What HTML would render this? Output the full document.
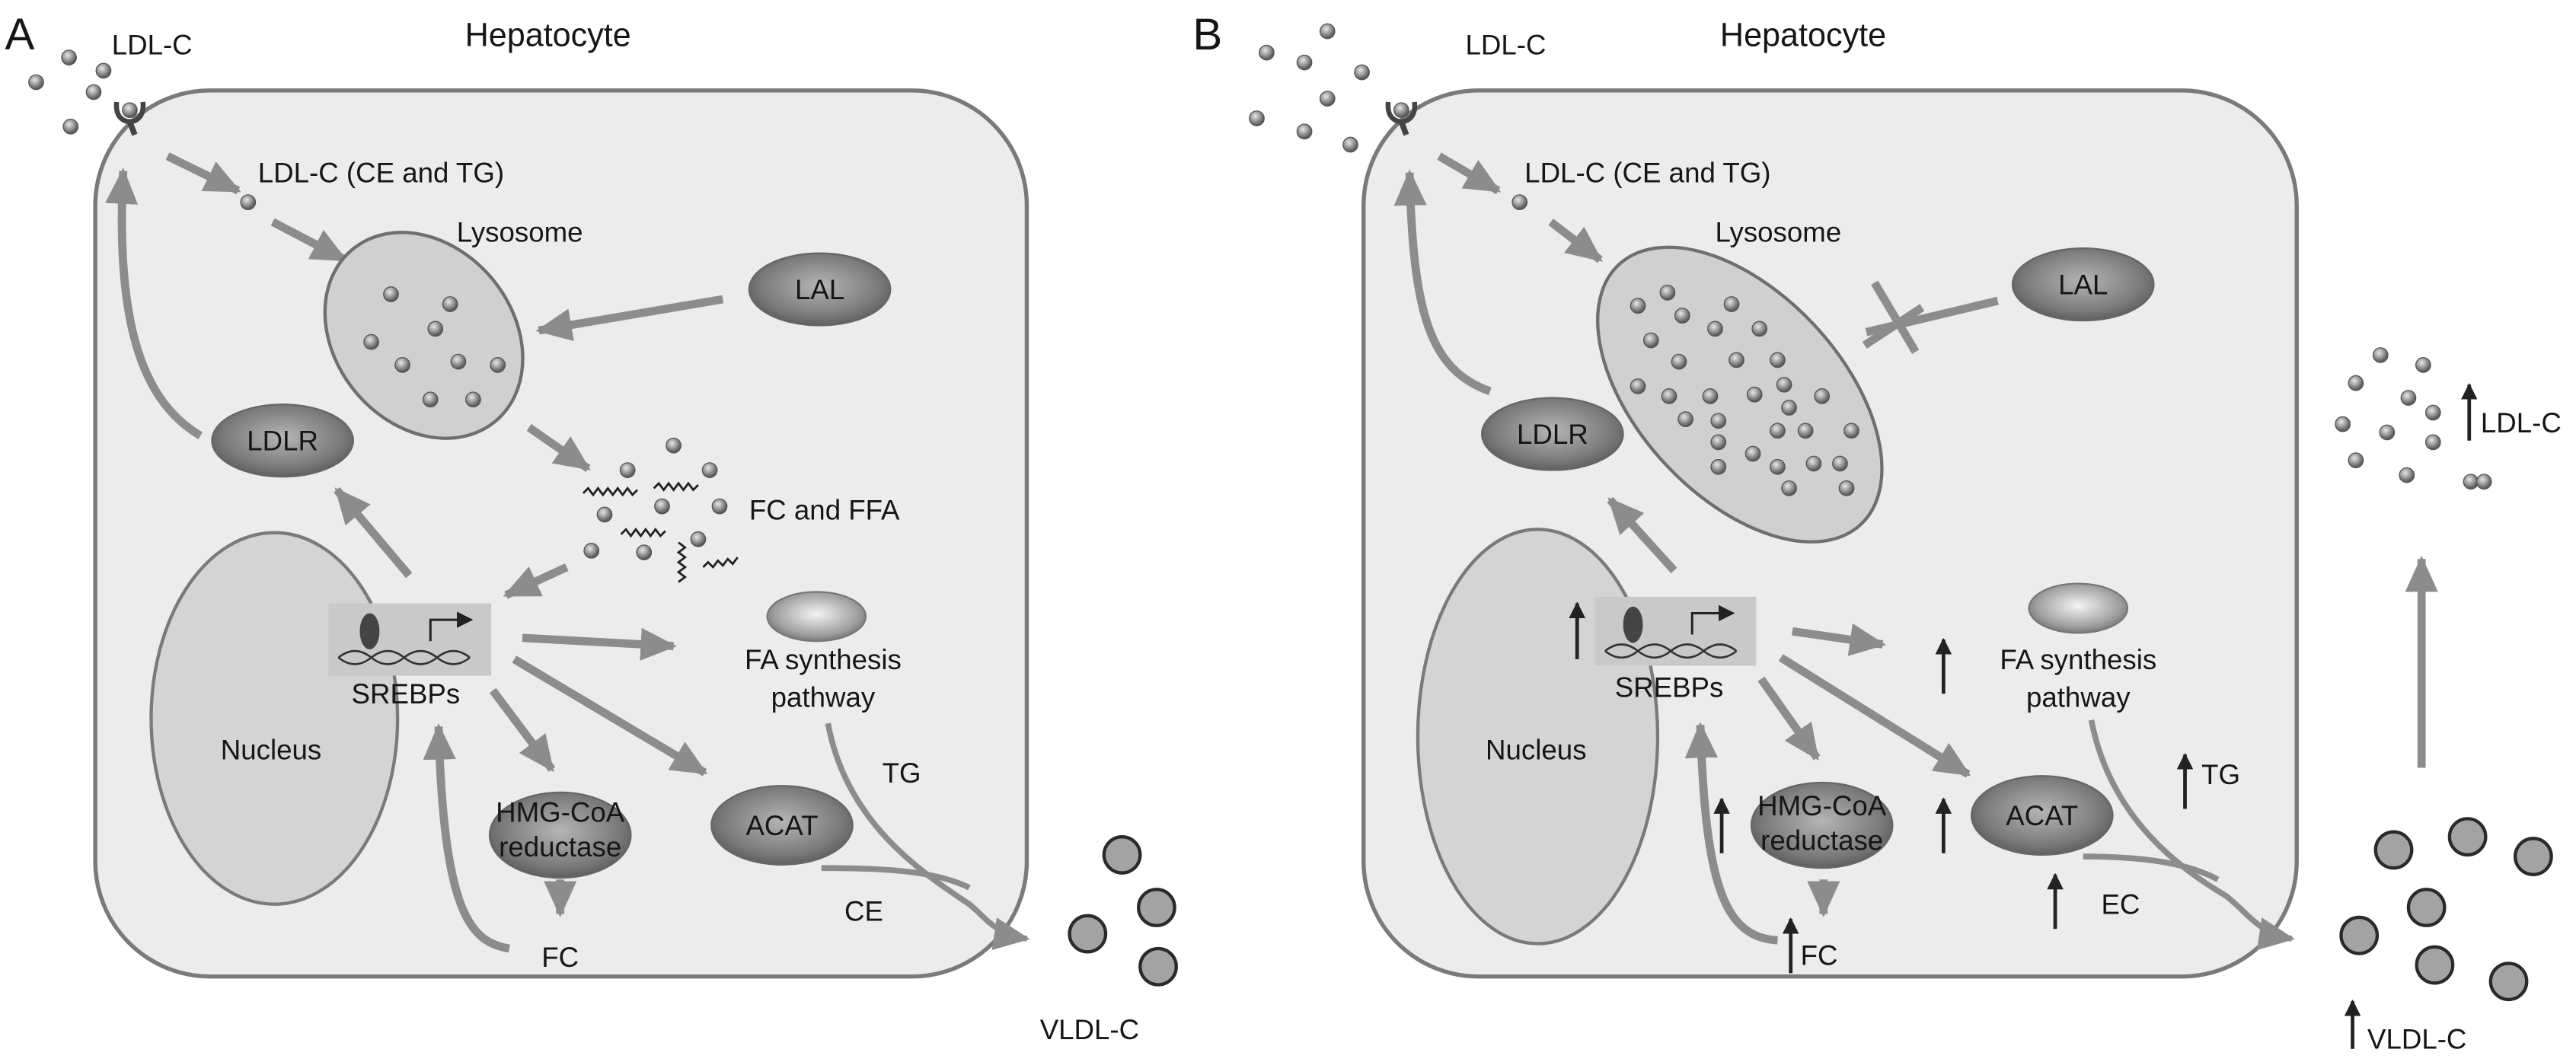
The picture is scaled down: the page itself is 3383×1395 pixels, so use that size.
<!DOCTYPE html>
<html><head><meta charset="utf-8"><style>
html,body{margin:0;padding:0;background:#fff}
svg{display:block}
text{font-family:"Liberation Sans",Arial,sans-serif;fill:#161616}
</style></head><body>
<svg width="3383" height="1395" viewBox="0 0 1568 646" preserveAspectRatio="none" xmlns="http://www.w3.org/2000/svg">
<defs>
<marker id="ah" markerUnits="userSpaceOnUse" markerWidth="22" markerHeight="20" viewBox="0 0 22 20" refX="20" refY="10" orient="auto"><path d="M0,0 L22,10 L0,20 z" fill="#8c8c8c"/></marker>
<marker id="bh" markerUnits="userSpaceOnUse" markerWidth="10" markerHeight="10" viewBox="0 0 10 10" refX="9" refY="5" orient="auto"><path d="M0,0 L10,5 L0,10 z" fill="#222"/></marker>
<radialGradient id="dot" cx="0.4" cy="0.35" r="0.6"><stop offset="0" stop-color="#e8e8e8"/><stop offset="1" stop-color="#5a5a5a"/></radialGradient>
<radialGradient id="enz" cx="0.5" cy="0.45" r="0.6"><stop offset="0" stop-color="#b5b5b5"/><stop offset="0.7" stop-color="#7a7a7a"/><stop offset="1" stop-color="#555"/></radialGradient>
<radialGradient id="fa" cx="0.5" cy="0.45" r="0.6"><stop offset="0" stop-color="#f4f4f4"/><stop offset="0.7" stop-color="#a0a0a0"/><stop offset="1" stop-color="#6a6a6a"/></radialGradient>
<g id="d"><circle r="4.5" fill="url(#dot)" stroke="#555" stroke-width="0.6"/></g>
<g id="v"><circle r="11" fill="#a3a3a3" stroke="#2a2a2a" stroke-width="2"/></g>
<g id="rec"><path d="M-8,-8 C-9,2 -3,4 0,4 C3,4 9,2 8,-8" stroke="#444" stroke-width="3" fill="none"/><path d="M0,4 L3,12" stroke="#444" stroke-width="3.5" fill="none"/><circle cx="0" cy="-3" r="4.5" fill="url(#dot)" stroke="#555" stroke-width="0.6"/></g>
<g id="helix"><path d="M0,8 Q10,0 20,8 T40,8 T60,8 T80,8 M0,8 Q10,16 20,8 T40,8 T60,8 T80,8" stroke="#333" stroke-width="1.2" fill="none"/></g>
</defs>

<!-- ============ PANEL A ============ -->
<text x="3" y="30" font-size="27">A</text>
<text x="68" y="33" font-size="17">LDL-C</text>
<text x="283" y="28" font-size="20">Hepatocyte</text>
<rect x="58" y="55" width="567" height="539" rx="70" fill="#ececec" stroke="#7a7a7a" stroke-width="2.5"/>
<use href="#d" x="22" y="50"/><use href="#d" x="42" y="35"/><use href="#d" x="63" y="43"/><use href="#d" x="57" y="56"/><use href="#d" x="43" y="77"/>
<use href="#rec" x="79" y="70"/>
<g stroke="#8c8c8c" stroke-width="5" fill="none" marker-end="url(#ah)">
<line x1="102" y1="95" x2="145" y2="116"/>
<line x1="166" y1="135" x2="210" y2="158"/>
<line x1="440" y1="182" x2="328" y2="201"/>
<path d="M122,265 C88,245 70,200 75,104"/>
<line x1="322" y1="260" x2="358" y2="285"/>
<line x1="345" y1="345" x2="308" y2="362"/>
<line x1="249" y1="350" x2="205" y2="298"/>
<line x1="318" y1="388" x2="410" y2="393"/>
<line x1="300" y1="420" x2="336" y2="468"/>
<line x1="313" y1="401" x2="429" y2="470"/>
<line x1="341" y1="535" x2="341" y2="556"/>
<path d="M310,577 C288,573 270,560 267,442"/>
</g>
<g stroke="#8c8c8c" stroke-width="3.5" fill="none">
<path d="M504,440 C515,500 560,530 590,550 C600,558 605,568 625,571" marker-end="url(#ah)"/>
<path d="M500,528 C540,528 570,530 590,540"/>
</g>
<text x="278" y="147" font-size="17">Lysosome</text>
<text x="157" y="111" font-size="17">LDL-C (CE and TG)</text>
<use href="#d" x="151" y="123"/>
<ellipse cx="258" cy="204" rx="68" ry="54" transform="rotate(50 258 204)" fill="#d0d0d0" stroke="#6f6f6f" stroke-width="2"/>
<use href="#d" x="238" y="179"/><use href="#d" x="274" y="185"/><use href="#d" x="265" y="200"/><use href="#d" x="226" y="208"/><use href="#d" x="245" y="222"/><use href="#d" x="279" y="220"/><use href="#d" x="303" y="222"/><use href="#d" x="262" y="243"/><use href="#d" x="288" y="243"/>
<ellipse cx="499" cy="176" rx="43" ry="22" fill="url(#enz)" stroke="#666" stroke-width="1"/>
<text x="499" y="182" font-size="17" text-anchor="middle">LAL</text>
<ellipse cx="172" cy="268" rx="43" ry="22" fill="url(#enz)" stroke="#666" stroke-width="1"/>
<text x="172" y="274" font-size="17" text-anchor="middle">LDLR</text>
<use href="#d" x="410" y="271"/><use href="#d" x="382" y="286"/><use href="#d" x="432" y="286"/><use href="#d" x="403" y="308"/><use href="#d" x="368" y="313"/><use href="#d" x="438" y="308"/><use href="#d" x="360" y="335"/><use href="#d" x="392" y="336"/><use href="#d" x="425" y="328"/>
<g stroke="#222" stroke-width="1.3" fill="none">
<path d="M355,300 l3,-3 l3,4 l3,-4 l3,4 l3,-4 l3,4 l3,-4 l3,4 l3,-4 l3,4 l3,-3"/>
<path d="M398,297 l3,-3 l3,4 l3,-4 l3,4 l3,-4 l3,4 l3,-4 l3,4 l3,-3"/>
<path d="M378,325 l3,-3 l3,4 l3,-4 l3,4 l3,-4 l3,4 l3,-4 l3,4 l3,-3"/>
<path d="M413,330 l4,3 l-4,3 l4,3 l-4,3 l4,3 l-4,3 l4,3 l-4,3"/>
<path d="M428,345 l3,-3 l3,3 l3,-4 l3,3 l3,-4 l3,3 l3,-4"/>
</g>
<text x="456" y="316" font-size="17">FC and FFA</text>
<ellipse cx="167" cy="437" rx="75" ry="113" fill="#d4d4d4" stroke="#7a7a7a" stroke-width="2"/>
<text x="165" y="462" font-size="17" text-anchor="middle">Nucleus</text>
<rect x="200" y="367" width="99" height="44" fill="#c9c9c9"/>
<ellipse cx="225" cy="384" rx="6" ry="11" fill="#444"/>
<use href="#helix" x="206" y="392"/>
<path d="M262,390 L262,377 L287,377" stroke="#222" stroke-width="1.4" fill="none" marker-end="url(#bh)"/>
<text x="247" y="428" font-size="17" text-anchor="middle">SREBPs</text>
<ellipse cx="497" cy="375" rx="30" ry="15" fill="url(#fa)" stroke="#777" stroke-width="1"/>
<text x="501" y="407" font-size="17" text-anchor="middle">FA synthesis</text>
<text x="501" y="430" font-size="17" text-anchor="middle">pathway</text>
<ellipse cx="341" cy="508" rx="43" ry="26" fill="url(#enz)" stroke="#666" stroke-width="1"/>
<text x="341" y="500" font-size="17" text-anchor="middle">HMG-CoA</text>
<text x="341" y="521" font-size="17" text-anchor="middle">reductase</text>
<ellipse cx="476" cy="502" rx="43" ry="24" fill="url(#enz)" stroke="#666" stroke-width="1"/>
<text x="476" y="508" font-size="17" text-anchor="middle">ACAT</text>
<text x="341" y="588" font-size="17" text-anchor="middle">FC</text>
<text x="537" y="476" font-size="17">TG</text>
<text x="514" y="560" font-size="17">CE</text>
<use href="#v" x="683" y="520"/><use href="#v" x="704" y="552"/><use href="#v" x="662" y="568"/><use href="#v" x="705" y="588"/>
<text x="633" y="632" font-size="17">VLDL-C</text>

<!-- ============ PANEL B ============ -->
<text x="726" y="30" font-size="27">B</text>
<text x="892" y="33" font-size="17">LDL-C</text>
<text x="1047" y="28" font-size="20">Hepatocyte</text>
<rect x="830" y="55" width="568" height="539" rx="70" fill="#ececec" stroke="#7a7a7a" stroke-width="2.5"/>
<use href="#d" x="808" y="19"/><use href="#d" x="771" y="32"/><use href="#d" x="829" y="44"/><use href="#d" x="794" y="38"/><use href="#d" x="808" y="60"/><use href="#d" x="765" y="72"/><use href="#d" x="794" y="80"/><use href="#d" x="822" y="88"/>
<use href="#rec" x="853" y="70"/>
<g stroke="#8c8c8c" stroke-width="5" fill="none" marker-end="url(#ah)">
<line x1="876" y1="95" x2="912" y2="116"/>
<line x1="944" y1="135" x2="974" y2="158"/>
<path d="M907,238 C870,225 860,190 858,105"/>
<line x1="1019" y1="347" x2="980" y2="304"/>
<line x1="1091" y1="384" x2="1146" y2="392"/>
<line x1="1072" y1="413" x2="1106" y2="461"/>
<line x1="1084" y1="400" x2="1198" y2="471"/>
<line x1="1110" y1="535" x2="1110" y2="556"/>
<path d="M1082,572 C1050,570 1038,540 1035,441"/>
<line x1="1474" y1="467" x2="1474" y2="340"/>
</g>
<line x1="1216" y1="183" x2="1136" y2="202" stroke="#8c8c8c" stroke-width="5"/>
<line x1="1141" y1="172" x2="1166" y2="214" stroke="#8c8c8c" stroke-width="5"/>
<line x1="1135" y1="210" x2="1170" y2="187" stroke="#8c8c8c" stroke-width="5"/>
<g stroke="#8c8c8c" stroke-width="3.5" fill="none">
<path d="M1273,438 C1285,500 1330,530 1355,545 C1368,555 1375,568 1395,571" marker-end="url(#ah)"/>
<path d="M1268,521 C1300,521 1330,524 1350,535"/>
</g>
<text x="928" y="111" font-size="17">LDL-C (CE and TG)</text>
<use href="#d" x="925" y="123"/>
<text x="1044" y="147" font-size="17">Lysosome</text>
<ellipse cx="1059" cy="240" rx="108" ry="62" transform="rotate(47 1059 240)" fill="#d0d0d0" stroke="#6f6f6f" stroke-width="2"/>
<use href="#d" x="997" y="186"/><use href="#d" x="1015" y="178"/><use href="#d" x="1054" y="185"/><use href="#d" x="1024" y="192"/><use href="#d" x="1044" y="200"/><use href="#d" x="1071" y="200"/><use href="#d" x="1005" y="207"/><use href="#d" x="1022" y="220"/><use href="#d" x="1057" y="219"/><use href="#d" x="1082" y="219"/><use href="#d" x="997" y="235"/><use href="#d" x="1016" y="241"/><use href="#d" x="1041" y="241"/><use href="#d" x="1068" y="240"/><use href="#d" x="1086" y="234"/><use href="#d" x="1109" y="241"/><use href="#d" x="1026" y="255"/><use href="#d" x="1046" y="256"/><use href="#d" x="1089" y="248"/><use href="#d" x="1082" y="262"/><use href="#d" x="1099" y="262"/><use href="#d" x="1127" y="262"/><use href="#d" x="1046" y="269"/><use href="#d" x="1067" y="276"/><use href="#d" x="1046" y="284"/><use href="#d" x="1082" y="284"/><use href="#d" x="1104" y="282"/><use href="#d" x="1120" y="282"/><use href="#d" x="1089" y="297"/><use href="#d" x="1124" y="297"/>
<ellipse cx="1268" cy="173" rx="43" ry="22" fill="url(#enz)" stroke="#666" stroke-width="1"/>
<text x="1268" y="179" font-size="17" text-anchor="middle">LAL</text>
<ellipse cx="945" cy="264" rx="43" ry="22" fill="url(#enz)" stroke="#666" stroke-width="1"/>
<text x="945" y="270" font-size="17" text-anchor="middle">LDLR</text>
<ellipse cx="936" cy="448" rx="73" ry="126" fill="#d4d4d4" stroke="#7a7a7a" stroke-width="2"/>
<text x="935" y="462" font-size="17" text-anchor="middle">Nucleus</text>
<rect x="971" y="363" width="98" height="42" fill="#c9c9c9"/>
<ellipse cx="994" cy="380" rx="6" ry="11" fill="#444"/>
<use href="#helix" x="977" y="388"/>
<path d="M1030,386 L1030,373 L1055,373" stroke="#222" stroke-width="1.4" fill="none" marker-end="url(#bh)"/>
<text x="1016" y="424" font-size="17" text-anchor="middle">SREBPs</text>
<ellipse cx="1265" cy="370" rx="30" ry="15" fill="url(#fa)" stroke="#777" stroke-width="1"/>
<text x="1265" y="407" font-size="17" text-anchor="middle">FA synthesis</text>
<text x="1265" y="430" font-size="17" text-anchor="middle">pathway</text>
<ellipse cx="1109" cy="502" rx="43" ry="26" fill="url(#enz)" stroke="#666" stroke-width="1"/>
<text x="1109" y="496" font-size="17" text-anchor="middle">HMG-CoA</text>
<text x="1109" y="517" font-size="17" text-anchor="middle">reductase</text>
<ellipse cx="1243" cy="496" rx="43" ry="24" fill="url(#enz)" stroke="#666" stroke-width="1"/>
<text x="1243" y="502" font-size="17" text-anchor="middle">ACAT</text>
<text x="1096" y="587" font-size="17">FC</text>
<text x="1340" y="477" font-size="17">TG</text>
<text x="1279" y="556" font-size="17">EC</text>
<g stroke="#222" stroke-width="2.2" fill="none" marker-end="url(#bh)">
<line x1="960" y1="401" x2="960" y2="367"/>
<line x1="1183" y1="422" x2="1183" y2="389"/>
<line x1="1048" y1="519" x2="1048" y2="486"/>
<line x1="1183" y1="519" x2="1183" y2="486"/>
<line x1="1090" y1="592" x2="1090" y2="559"/>
<line x1="1330" y1="492" x2="1330" y2="459"/>
<line x1="1251" y1="565" x2="1251" y2="532"/>
<line x1="1432" y1="638" x2="1432" y2="609"/>
<line x1="1503" y1="268" x2="1503" y2="234"/>
</g>
<use href="#v" x="1457" y="517"/><use href="#v" x="1502" y="509"/><use href="#v" x="1542" y="521"/><use href="#v" x="1477" y="552"/><use href="#v" x="1436" y="569"/><use href="#v" x="1482" y="587"/><use href="#v" x="1527" y="597"/>
<text x="1441" y="638" font-size="17">VLDL-C</text>
<use href="#d" x="1449" y="216"/><use href="#d" x="1475" y="222"/><use href="#d" x="1434" y="233"/><use href="#d" x="1466" y="242"/><use href="#d" x="1481" y="251"/><use href="#d" x="1426" y="258"/><use href="#d" x="1453" y="263"/><use href="#d" x="1481" y="269"/><use href="#d" x="1434" y="280"/><use href="#d" x="1465" y="289"/><use href="#d" x="1504" y="293"/><use href="#d" x="1512" y="293"/>
<text x="1510" y="263" font-size="17">LDL-C</text>
</svg>
</body></html>
